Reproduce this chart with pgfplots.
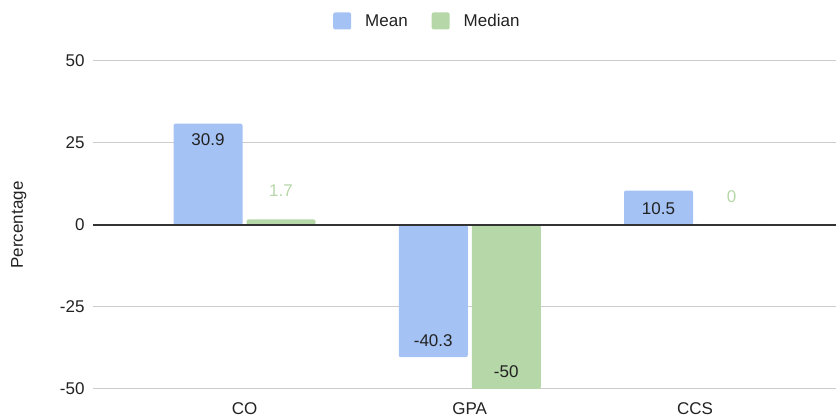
\documentclass[border=0pt]{standalone}
\usepackage{pgfplots}
\pgfplotsset{compat=1.18}
\usepackage{pgfplotstable}
\usepackage{fontspec}
\setmainfont{Liberation Sans}
\definecolor{meanc}{HTML}{A4C2F4}
\definecolor{medc}{HTML}{B6D7A8}
\definecolor{gridc}{HTML}{CCCCCC}
\definecolor{txt}{HTML}{222222}
\definecolor{zeroc}{HTML}{333333}

\pgfplotstableread{
x y lab off mix
0 30.9 30.9 -16.5 100
1 -40.3 -40.3 17 100
2 10.5 10.5 -18 100
}\meantab
\pgfplotstableread{
x y lab off mix
0 1.7 1.7 29 0
1 -50 -50 17 100
2 0 0 28 0
}\medtab

\begin{document}
\begin{tikzpicture}
\path[use as bounding box] (0,0) rectangle (836pt,417pt);
\begin{axis}[
  at={(93pt,28pt)}, anchor=south west,
  scale only axis, width=743pt, height=328pt,
  xmin=-0.6726, xmax=2.626, ymin=-50, ymax=50,
  xtick={0,1,2}, xticklabels={CO,GPA,CCS},
  ytick={-50,-25,25,50},
  extra y ticks={0},
  extra y tick style={grid=none},
  ymajorgrids, major grid style={gridc, line width=1pt},
  axis line style={draw=none},
  tick style={draw=none},
  major tick length=0pt,
  /pgf/number format/assume math mode=true,
  ticklabel style={font=\fontsize{17}{20}\selectfont, text=txt},
  yticklabel style={xshift=-5pt},
  xticklabel style={yshift=-10.5pt},
  ylabel={Percentage},
  every axis y label/.style={at={(axis description cs:-0.1,0.5)}, rotate=90, anchor=center, font=\fontsize{17}{20}\selectfont, text=txt},
  legend columns=2,
  legend style={draw=none, fill=none, at={(axis description cs:0.45,1.122)}, anchor=center,
     font=\fontsize{17}{20}\selectfont, text=txt,
     /tikz/every odd column/.append style={column sep=12pt},
     /tikz/every even column/.append style={column sep=22pt}},
  legend image code/.code={\fill[#1, draw=none, rounded corners=2pt] (0pt,-8.5pt) rectangle (18pt,8.5pt);},
  nodes near coords,
  nodes near coords align={center},
  point meta=explicit symbolic,
  visualization depends on={\thisrow{off} \as \lbloff},
  visualization depends on={\thisrow{mix} \as \lblmix},
  every node near coord/.append style={font=\fontsize{17}{20}\selectfont, text=txt!\lblmix!medc, yshift=\lbloff pt, anchor=center},
]
\addplot[ybar, bar width=69pt, bar shift=-36.5pt, fill=meanc, draw=none, rounded corners=2pt,
  every node near coord/.append style={xshift=-36.5pt}]
  table[x=x, y=y, meta=lab] {\meantab};
\addlegendentry{Mean}
\addplot[ybar, bar width=69pt, bar shift=36.5pt, fill=medc, draw=none, rounded corners=2pt,
  every node near coord/.append style={xshift=36.5pt}]
  table[x=x, y=y, meta=lab] {\medtab};
\addlegendentry{Median}
\draw[zeroc, line width=1.3pt] (rel axis cs:0,0.5) -- (rel axis cs:1,0.5);
\end{axis}
\end{tikzpicture}
\end{document}
